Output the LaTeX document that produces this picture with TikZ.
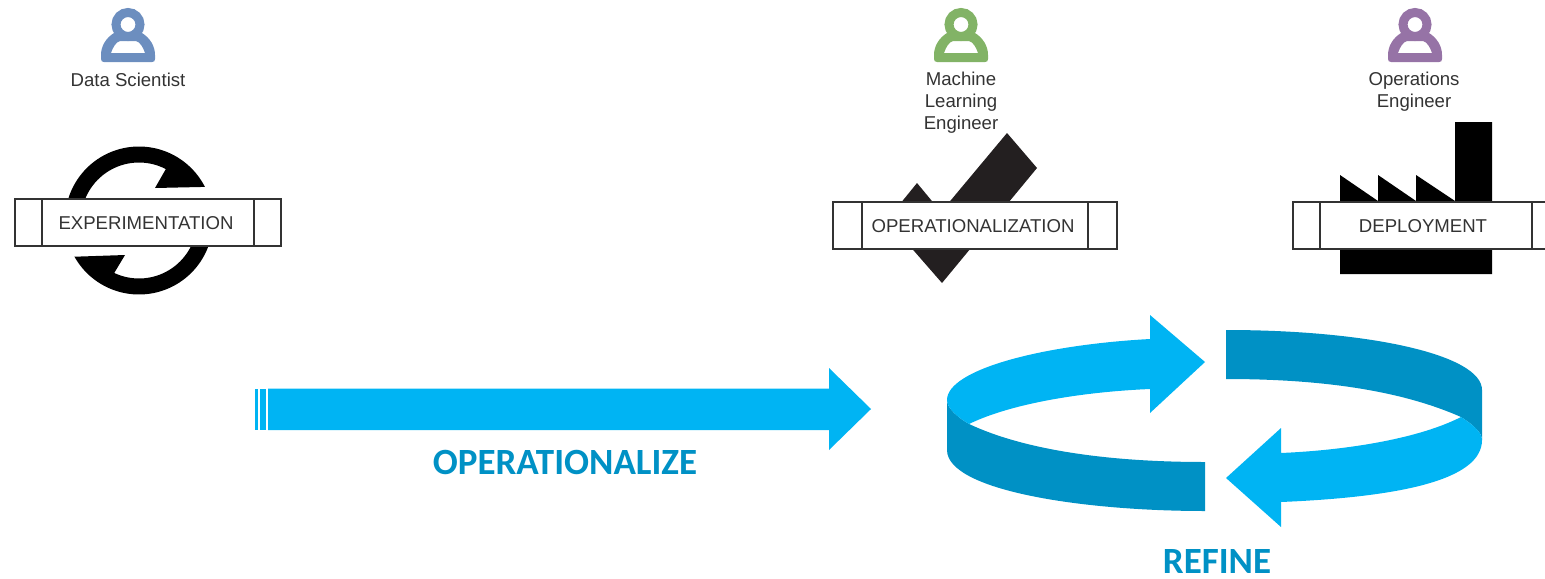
\documentclass[tikz,border=0pt]{standalone}
\usepackage{fontspec}
\setmainfont{Liberation Sans}
\newfontfamily\headfont{Carlito}
\usetikzlibrary{positioning}
\definecolor{actorB}{HTML}{6C8EBF}
\definecolor{actorG}{HTML}{82B366}
\definecolor{actorP}{HTML}{9673A6}
\definecolor{flowL}{HTML}{00B4F3}
\definecolor{flowD}{HTML}{0091C5}
\definecolor{iconK}{HTML}{000000}
\definecolor{checkK}{HTML}{231F20}
\definecolor{inkK}{HTML}{333333}
\tikzset{
  procbar/.style 2 args={rectangle, draw=inkK, line width=0.6pt, fill=white,
                text=inkK, minimum width=#1, minimum height=23.5pt, inner sep=0pt,
                text height=7.1pt, text depth=0pt,
                font=\fontsize{9.3}{11}\selectfont,
                path picture={
                  \draw[inkK, line width=0.6pt]
                    ([xshift=#2]path picture bounding box.north west) --
                    ([xshift=#2]path picture bounding box.south west)
                    ([xshift=-#2]path picture bounding box.north east) --
                    ([xshift=-#2]path picture bounding box.south east);
                }},
  role/.style={inner sep=0pt, align=center, text=inkK,
               font=\fontsize{9.3}{11}\selectfont},
  phase/.style={inner sep=0pt, text=flowD, text depth=0pt,
                font=\headfont\bfseries\fontsize{18.5}{20}\selectfont},
  icon/.style={fill=iconK, draw=none},
  bandL/.style={fill=flowL, draw=none},
  bandD/.style={fill=flowD, draw=none},
  pics/actor/.style={code={
    \fill[#1, even odd rule]
      (-24,62) -- (24,62) .. controls (26,62) and (27,61) .. (27,59) -- (27,55)
      .. controls (27,46) and (22,38) .. (14,33) -- (-14,33)
      .. controls (-22,38) and (-27,46) .. (-27,55) -- (-27,59)
      .. controls (-27,61) and (-26,62) .. (-24,62) -- cycle
      (-17,53) -- (17,53)
      .. controls (15,47) and (12,42) .. (8,41) -- (-8,41)
      .. controls (-12,42) and (-15,47) .. (-17,53) -- cycle;
    \draw[#1, line width=4.5pt] (0,24.5) circle[radius=12];
  }},
}
\begin{document}
\begin{tikzpicture}[x=0.5pt, y=-0.5pt]
  \useasboundingbox (0,0) rectangle (1545,578);

  \pic (scientist) at (128,0) {actor=actorB};
  \pic (mlengineer) at (961,0) {actor=actorG};
  \pic (opsengineer) at (1415,0) {actor=actorP};
  \node[role] (scientistlbl) at (128,80) {Data Scientist};
  \node[role] (mlengineerlbl) at (961,103) {Machine\\Learning\\Engineer};
  \node[role] (opsengineerlbl) at (1414,92) {Operations\\Engineer};

  % cycle icon
  \fill[icon] plot[domain=-163:-27, samples=50] ({139+74*cos(\x)},{220.5+74*sin(\x)})
    -- (155,188) -- (167,167)
    -- plot[domain=-62:-159, samples=30] ({139+58*cos(\x)},{220.5+58*sin(\x)}) -- cycle;
  \fill[icon] plot[domain=20:150.7, samples=50] ({139+74*cos(\x)},{220.5+74*sin(\x)})
    -- (125,255) -- (113,275)
    -- plot[domain=115:26, samples=30] ({139+58*cos(\x)},{220.5+58*sin(\x)}) -- cycle;
  % check icon
  \fill[checkK] (1007,133) -- (1037,168) -- (942,283) -- (887,220) -- (917,183)
    -- (941,212) -- cycle;
  % factory icon
  \fill[icon] (1340,274) -- (1340,175) -- (1378,201) -- (1378,175) -- (1416,201)
    -- (1416,175) -- (1455,201) -- (1455,122) -- (1492,122) -- (1492,274) -- cycle;

  \node[procbar={133pt}{13.5pt}] (experiment) at (148,222.5) {\hspace{-2pt}EXPERIMENTATION};
  \node[procbar={142pt}{14.5pt}] (operation) at (975,225.5) {\hspace{-2pt}OPERATIONALIZATION};
  \node[procbar={133pt}{13.5pt}] (deploy) at (1426,225.5) {\hspace{-3pt}DEPLOYMENT};

  % straight arrow
  \fill[bandL] (255,388.5) rectangle (257.5,430);
  \fill[bandL] (260,388.5) rectangle (265.5,430);
  \fill[bandL] (268,388.5) -- (829,388.5) -- (829,368) -- (871,409) -- (829,450)
    -- (829,430) -- (268,430) -- cycle;
  \node[phase] (operationalize) at (565,462) {OPERATIONALIZE};

  % refine loop
  \fill[bandD] (947,400) -- (947,450) .. controls (947,490) and (1080,511) .. (1205,511)
    -- (1205,462) .. controls (1100,462) and (1020,448) .. (969,424)
    .. controls (957,417) and (947,408) .. (947,400) -- cycle;
  \fill[bandL] (947,400) .. controls (947,370) and (1040,345) .. (1150,339)
    -- (1150,315) -- (1205,362) -- (1150,413) -- (1150,389)
    .. controls (1080,392) and (1010,404) .. (969,424)
    .. controls (957,417) and (947,408) .. (947,400) -- cycle;
  \fill[bandD] (1226,330) .. controls (1370,330) and (1482,355) .. (1482,390)
    -- (1482,440) .. controls (1482,432) and (1472,424) .. (1461,417)
    .. controls (1400,390) and (1320,379) .. (1226,379) -- cycle;
  \fill[bandL] (1461,417) .. controls (1420,438) and (1350,450) .. (1281,453)
    -- (1281,428) -- (1226,478) -- (1281,527) -- (1281,502)
    .. controls (1400,497) and (1482,480) .. (1482,440)
    .. controls (1482,432) and (1472,424) .. (1461,417) -- cycle;
  \node[phase] (refine) at (1217,561) {REFINE};
\end{tikzpicture}
\end{document}
